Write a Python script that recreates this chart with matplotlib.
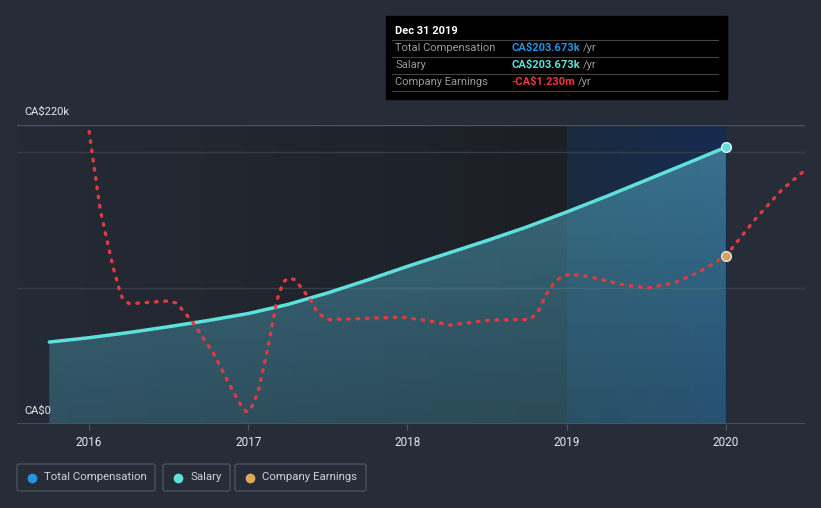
import numpy as np
import matplotlib
matplotlib.use("Agg")
import matplotlib.pyplot as plt
from matplotlib.colors import LinearSegmentedColormap
from matplotlib.patches import FancyBboxPatch

plt.rcParams['font.family'] = ['Roboto', 'DejaVu Sans']

# salary (= total compensation), CA$ thousands
sal_x = [2015.75, 2016.0, 2016.25, 2016.5, 2016.75, 2017.0, 2017.25, 2017.5, 2017.75,
         2018.0, 2018.25, 2018.5, 2018.75, 2019.0, 2019.25, 2019.5, 2019.75, 2020.0]
sal_y = [60.3, 63.5, 67.3, 71.6, 76.2, 81.3, 88.0, 96.5, 106.0,
         116.0, 125.5, 135.0, 145.0, 156.0, 167.5, 179.5, 191.5, 203.673]

# company earnings, CA$ millions
earn_x = [2016.0, 2016.07, 2016.15, 2016.19, 2016.21, 2016.25, 2016.32, 2016.49, 2016.55,
          2016.65, 2016.78, 2016.91, 2016.96, 2016.99, 2017.02, 2017.06, 2017.12, 2017.18,
          2017.22, 2017.25, 2017.29, 2017.33, 2017.39, 2017.44, 2017.50, 2017.64, 2017.96,
          2018.12, 2018.27, 2018.52, 2018.77, 2018.82, 2018.87, 2018.92, 2018.97, 2019.03,
          2019.15, 2019.36, 2019.51, 2019.67, 2019.82, 2020.0, 2020.18, 2020.35, 2020.49]
earn_y = [1.26, -0.31, -1.45, -1.90, -2.08, -2.18, -2.17, -2.13, -2.17,
          -2.55, -3.17, -3.97, -4.25, -4.35, -4.25, -3.97, -3.11, -2.11,
          -1.75, -1.67, -1.70, -1.85, -2.11, -2.38, -2.50, -2.49, -2.45,
          -2.52, -2.61, -2.51, -2.50, -2.35, -2.00, -1.77, -1.63, -1.59,
          -1.65, -1.81, -1.87, -1.77, -1.57, -1.23, -0.51, 0.09, 0.47]

years = [2016, 2017, 2018, 2019, 2020]

BG = "#262c38"
W, H = 821, 508
fig = plt.figure(figsize=(W / 100, H / 100), dpi=100, facecolor=BG)
x0, x1, y0, y1 = 17, 805, 125, 424
ax = fig.add_axes([x0 / W, 1 - y1 / H, (x1 - x0) / W, (y1 - y0) / H])
ax.set_facecolor(BG)
xmin, xmax = 2015.547, 2020.497
ax.set_xlim(xmin, xmax)
ax.set_ylim(0, 220)

# dark past region with horizontal gradient
cm_dark = LinearSegmentedColormap.from_list("d", ["#252b36", "#1c1f25"])
ax.imshow(np.linspace(0, 1, 100)[None, :], cmap=cm_dark, aspect="auto",
          extent=(xmin, 2019, 0, 220), zorder=0)
# highlighted year band
cm_band = LinearSegmentedColormap.from_list("b", ["#1a2a3e", "#152b50"])
ax.imshow(np.linspace(0, 1, 100)[None, :], cmap=cm_band, aspect="auto",
          extent=(2019, 2020, 0, 220), zorder=0.5)

# grid lines
for g in [100, 200]:
    ax.axhline(g, color="#363c48", lw=1, zorder=1)
ax.axhline(220, color="#4c525e", lw=1, zorder=1)
ax.axhline(0, color="#4f5562", lw=1.2, zorder=5)

# salary fill with gradient
poly = ax.fill_between(sal_x, sal_y, 0, color="none", zorder=2)
cm_fill = LinearSegmentedColormap.from_list("f", [(0.26, 0.55, 0.64, 0.40), (0.32, 0.64, 0.74, 0.62)])
img = ax.imshow(np.linspace(0, 1, 100)[:, None], cmap=cm_fill, aspect="auto",
                extent=(xmin, xmax, 0, 220), origin="lower", zorder=2)
img.set_clip_path(poly.get_paths()[0], transform=ax.transData)
ax.plot(sal_x, sal_y, color="#5ee0dc", lw=2.5, zorder=4, solid_capstyle="round")
ax.plot([2020], [sal_y[-1]], "o", ms=7, color="#5ee0dc", mec="#e6f0f2", mew=1, zorder=6)

ax.set_xticks(years)
ax.set_xticklabels([str(y) for y in years], color="#e8e8e8", fontsize=8.5)
ax.tick_params(axis="x", length=4, color="#4f5562", pad=5)
ax.set_yticks([])
for s in ax.spines.values():
    s.set_visible(False)

# earnings on its own hidden scale
ax2 = ax.twinx()
ax2.set_ylim(-4.59, 1.39)
ax2.plot(earn_x, earn_y, color="#e23b3f", lw=2.4, linestyle=(0, (0.5, 2.3)),
         dash_capstyle="round", zorder=5)
ax2.plot([2020], [-1.23], "o", ms=7, color="#d8a05a", mec="#e6e6e6", mew=1, zorder=6)
ax2.set_yticks([])
for s in ax2.spines.values():
    s.set_visible(False)

# y labels
fig.text(24 / W, 1 - 112 / H, "CA$220k", color="#e8e8e8", fontsize=8, va="center")
fig.text(24 / W, 1 - 411 / H, "CA$0", color="#e8e8e8", fontsize=8, va="center")

# tooltip
fig.patches.append(plt.Rectangle((386 / W, 1 - 99 / H), 341 / W, 83 / H,
                                 transform=fig.transFigure, color="black", zorder=10))
for ly in [40, 57, 74, 91]:
    fig.add_artist(plt.Line2D([392 / W, 718 / W], [1 - ly / H] * 2, color="#444444",
                              lw=0.8, zorder=11))
fig.text(395 / W, 1 - 31 / H, "Dec 31 2019", color="white", fontsize=8,
         fontweight="bold", va="center", zorder=12)
rows = [("Total Compensation", "CA$203.673k", "#2394df"),
        ("Salary", "CA$203.673k", "#5ee0d6"),
        ("Company Earnings", "-CA$1.230m", "#e8383d")]
for i, (lab, val, col) in enumerate(rows):
    yy = 1 - (48 + 17 * i) / H
    fig.text(395 / W, yy, lab, color="#9a9a9a", fontsize=8, va="center", zorder=12)
    t = fig.text(511 / W, yy, val, color=col, fontsize=8, fontweight="bold",
                 va="center", zorder=12)
    fig.canvas.draw()
    bb = t.get_window_extent()
    fig.text(bb.x1 / W + 3 / W, yy, "/yr", color="#9a9a9a", fontsize=8,
             va="center", zorder=12)

# legend
legend = [("Total Compensation", "#2394df", 17, 155),
          ("Salary", "#5ee0d6", 163, 230),
          ("Company Earnings", "#e0a854", 235, 366)]
for lab, col, lx0, lx1 in legend:
    fig.patches.append(FancyBboxPatch((lx0 / W, 1 - 491 / H), (lx1 - lx0) / W, 27 / H,
                                      boxstyle="round,pad=0,rounding_size=0.003",
                                      transform=fig.transFigure, fc="none",
                                      ec="#4a505c", lw=1))
    fig.add_artist(plt.Line2D([(lx0 + 15) / W], [1 - 477.5 / H], marker="o", ms=6,
                              color=col, transform=fig.transFigure))
    fig.text((lx0 + 27) / W, 1 - 477.5 / H, lab, color="#d0d0d0", fontsize=8.2, va="center")

fig.savefig("out.png", dpi=100, facecolor=BG)
